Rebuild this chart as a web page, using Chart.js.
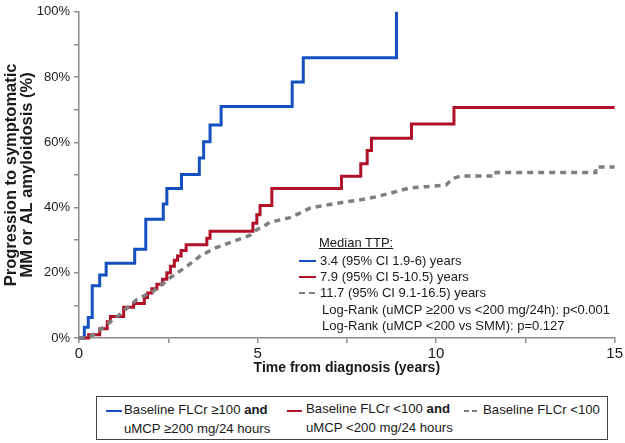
<!DOCTYPE html>
<html>
<head>
<meta charset="utf-8">
<script src="https://cdn.jsdelivr.net/npm/chart.js@4.4.1/dist/chart.umd.min.js"></script>
<style>
  body { margin: 0; background: #fff; }
  #wrap { position: relative; width: 625px; height: 443px; font-family: "Liberation Sans", Arial, sans-serif; color: #1a1a1a; }
  #c { position: absolute; left: 0; top: 0; }
  .t { position: absolute; font-size: 13px; line-height: 16px; white-space: nowrap; }
  .ln { position: absolute; height: 2px; }
  #legend { position: absolute; left: 96px; top: 396px; width: 510px; height: 42px; border: 1.5px solid #444; }
  #legend .t { font-size: 13.2px; line-height: 19px; }
</style>
</head>
<body>
<div id="wrap">
  <canvas id="c" width="625" height="377"></canvas>

  <!-- median TTP box -->
  <div class="t" style="left:319px;top:235px;text-decoration:underline;">Median TTP:</div>
  <div class="ln" style="left:299px;top:260px;width:17px;background:#1550c0;"></div>
  <div class="t" style="left:320px;top:253px;">3.4 (95% CI 1.9-6) years</div>
  <div class="ln" style="left:299px;top:276px;width:17px;background:#b01028;"></div>
  <div class="t" style="left:320px;top:269px;">7.9 (95% CI 5-10.5) years</div>
  <div class="ln" style="left:299px;top:292px;width:6px;background:#808080;"></div>
  <div class="ln" style="left:309px;top:292px;width:6px;background:#808080;"></div>
  <div class="t" style="left:320px;top:285px;">11.7 (95% CI 9.1-16.5) years</div>
  <div class="t" style="left:322px;top:302px;">Log-Rank (uMCP ≥200 vs &lt;200 mg/24h): p&lt;0.001</div>
  <div class="t" style="left:322px;top:318px;">Log-Rank (uMCP &lt;200 vs SMM): p=0.127</div>

  <div id="legend">
    <div class="ln" style="left:9px;top:13px;width:16px;background:#1550c0;"></div>
    <div class="t" style="left:27px;top:3px;">Baseline FLCr ≥100 <b>and</b><br>uMCP ≥200 mg/24 hours</div>
    <div class="ln" style="left:190px;top:13px;width:15px;background:#b01028;"></div>
    <div class="t" style="left:209px;top:2px;">Baseline FLCr &lt;100 <b>and</b><br>uMCP &lt;200 mg/24 hours</div>
    <div class="ln" style="left:367px;top:13px;width:5px;background:#808080;"></div>
    <div class="ln" style="left:375px;top:13px;width:5px;background:#808080;"></div>
    <div class="t" style="left:386px;top:3px;">Baseline FLCr &lt;100</div>
  </div>
</div>

<script>
// time (years) and cumulative progression (%)
const blueT = [0, 0.15, 0.26, 0.37, 0.58, 0.76, 1.56, 1.87, 2.36, 2.46, 2.87, 3.37, 3.49, 3.67, 3.98, 5.97, 6.28, 8.89];
const blueP = [0, 3.3, 6.3, 16.0, 19.3, 22.9, 27.2, 36.4, 41.1, 45.8, 50.1, 55.2, 60.2, 65.3, 71.0, 78.5, 85.9, 100];

const redT = [0, 0.27, 0.58, 0.79, 0.88, 1.25, 1.53, 1.83, 1.92, 2.04, 2.18, 2.34, 2.46, 2.56, 2.67, 2.76, 2.86, 3.00, 3.58, 3.67, 4.87, 4.98, 5.07, 5.40, 7.35, 7.89, 8.07, 8.19, 9.31, 10.50, 15];
const redP = [0, 1.0, 2.8, 5.0, 6.6, 9.4, 10.6, 12.4, 13.8, 15.1, 16.5, 18.0, 20.0, 22.0, 23.8, 25.1, 26.8, 28.6, 30.6, 32.7, 35.2, 37.8, 40.6, 45.8, 49.6, 53.4, 57.5, 61.2, 65.6, 70.7, 70.7];

const grayT = [0, 0.27, 0.69, 1.16, 1.63, 2.09, 2.56, 3.02, 3.39, 3.77, 4.32, 4.79, 4.98, 5.16, 5.35, 5.91, 6.47, 6.93, 7.40, 7.86, 8.33, 8.79, 9.26, 9.73, 10.28, 10.46, 10.70, 11.68, 11.68, 14.47, 14.47, 15];
const grayP = [0, 0, 3.3, 7.4, 11.9, 14.4, 18.5, 22.0, 25.1, 27.4, 29.6, 31.5, 33.2, 34.2, 35.5, 36.9, 39.8, 40.8, 41.6, 42.3, 43.3, 44.6, 46.0, 46.4, 46.9, 48.9, 49.7, 49.7, 50.7, 50.7, 52.4, 52.4];

const xTicks = [0, 5, 10, 15];
const yTicks = [0, 20, 40, 60, 80, 100];

const pts = (t, p) => t.map((v, i) => ({ x: v, y: p[i] }));
const axisGray = "#8c8c8c";

new Chart(document.getElementById("c"), {
  type: "line",
  data: {
    datasets: [
      { data: pts(grayT, grayP), borderColor: "#7f7f7f", borderWidth: 3.5, borderDash: [6, 5], pointRadius: 0, clip: false },
      { data: pts(redT, redP), borderColor: "#b01028", borderWidth: 3, stepped: "before", pointRadius: 0, clip: false },
      { data: pts(blueT, blueP), borderColor: "#1550c0", borderWidth: 3, stepped: "before", pointRadius: 0, clip: false },
    ],
  },
  options: {
    responsive: false,
    animation: false,
    devicePixelRatio: 1,
    layout: { padding: { top: 8, right: 10, left: 3, bottom: 0 } },
    plugins: { legend: { display: false }, tooltip: { enabled: false } },
    scales: {
      x: {
        type: "linear",
        min: 0,
        max: 15,
        afterFit: (s) => { s.height = 39; },
        border: { color: axisGray, width: 1.5 },
        grid: { drawOnChartArea: false, drawTicks: true, tickLength: 5, color: axisGray, lineWidth: 1.5 },
        ticks: {
          stepSize: 2.5,
          maxRotation: 0,
          padding: 2,
          color: "#1a1a1a",
          font: { family: "'Liberation Sans', Arial", size: 15 },
          callback: (v) => (xTicks.includes(v) ? String(v) : ""),
        },
        title: {
          display: true,
          text: "Time from diagnosis (years)",
          color: "#1a1a1a",
          font: { family: "'Liberation Sans', Arial", size: 14, weight: "bold" },
          padding: { top: 4, bottom: 0 },
        },
      },
      y: {
        min: 0,
        max: 100,
        afterFit: (s) => { s.width = 76; },
        border: { color: axisGray, width: 1.5 },
        grid: { drawOnChartArea: false, drawTicks: true, tickLength: 5, color: axisGray, lineWidth: 1.5 },
        ticks: {
          stepSize: 10,
          padding: 4,
          color: "#1a1a1a",
          font: { family: "'Liberation Sans', Arial", size: 13 },
          callback: (v) => (yTicks.includes(v) ? v + "%" : ""),
        },
        title: {
          display: true,
          text: ["Progression to symptomatic", "MM or AL amyloidosis (%)"],
          color: "#1a1a1a",
          font: { family: "'Liberation Sans', Arial", size: 16.5, weight: "bold", lineHeight: 1.0 },
          padding: { top: 0, bottom: 0 },
        },
      },
    },
  },
});
</script>
</body>
</html>
